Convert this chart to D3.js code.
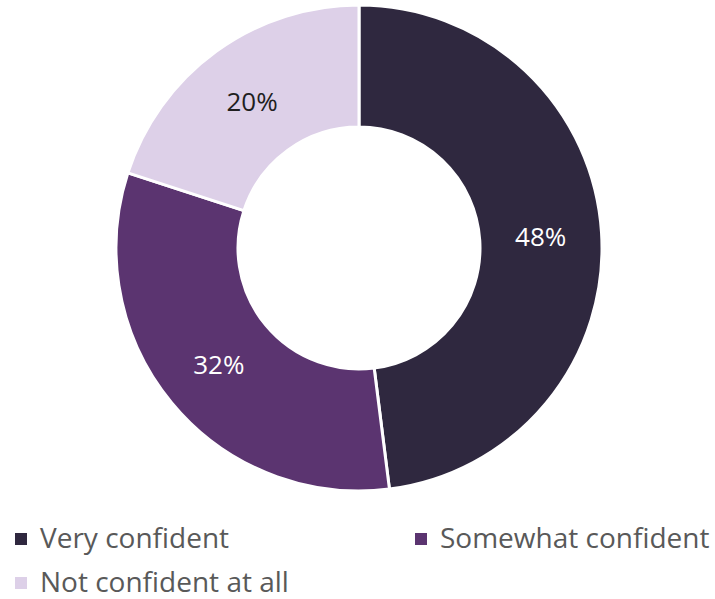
<!DOCTYPE html>
<html>
<head>
<meta charset="utf-8">
<script src="https://cdn.jsdelivr.net/npm/d3@7"></script>
<style>
  html, body { margin: 0; padding: 0; background: #fff; }
  svg { display: block; }
</style>
</head>
<body>
<svg id="chart" width="715" height="599"></svg>
<script>
// Survey answers and their shares (percent)
const categories = ["Very confident", "Somewhat confident", "Not confident at all"];
const values = [48, 32, 20];
const colors = ["#2f283f", "#5b3470", "#ddd0e8"];
const labelColors = ["#ffffff", "#ffffff", "#1f1f1f"];

const svg = d3.select("#chart");
const cx = 359, cy = 248;
const outerR = 243, innerR = 121;
const font = "'Open Sans', sans-serif";

const pie = d3.pie().sort(null).value(d => d)(values);
const arc = d3.arc().innerRadius(innerR).outerRadius(outerR);

const g = svg.append("g").attr("transform", `translate(${cx},${cy})`);

g.selectAll("path.slice")
  .data(pie)
  .join("path")
  .attr("class", "slice")
  .attr("d", arc)
  .attr("fill", (d, i) => colors[i])
  .attr("stroke", "#ffffff")
  .attr("stroke-width", 3)
  .attr("stroke-linejoin", "miter");

g.selectAll("text.pct")
  .data(pie)
  .join("text")
  .attr("class", "pct")
  .attr("transform", d => `translate(${arc.centroid(d)})`)
  .attr("text-anchor", "middle")
  .attr("dy", "0.38em")
  .attr("font-family", font)
  .attr("font-size", 26)
  .attr("fill", (d, i) => labelColors[i])
  .text(d => d.data + "%");

// Legend: two columns, wrapping to a second row
const legendPos = [[15, 548], [415, 548], [15, 592]];
const legend = svg.selectAll("g.legend")
  .data(categories)
  .join("g")
  .attr("class", "legend")
  .attr("transform", (d, i) => `translate(${legendPos[i][0]},${legendPos[i][1]})`);

legend.append("rect")
  .attr("x", 0).attr("y", -15)
  .attr("width", 12).attr("height", 12)
  .attr("fill", (d, i) => colors[i]);

legend.append("text")
  .attr("x", 25).attr("y", 0)
  .attr("font-family", font)
  .attr("font-size", 28)
  .attr("fill", "#595959")
  .text(d => d);
</script>
</body>
</html>
